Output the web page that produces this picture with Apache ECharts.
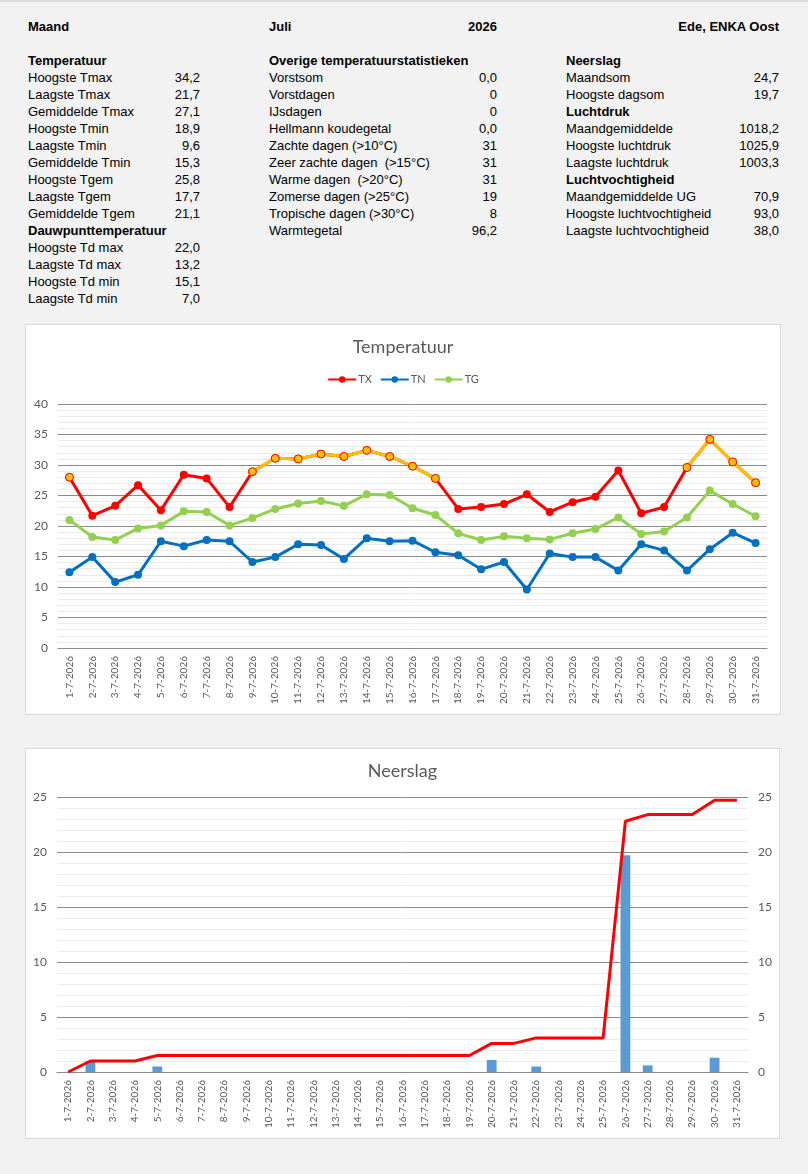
<!DOCTYPE html>
<html lang="nl">
<head>
    <meta charset="utf-8">
    <title>Maandoverzicht juli 2026</title>
    <script src="https://cdn.jsdelivr.net/npm/echarts@6.0.0/dist/echarts.min.js"></script>
    <style>
        body { margin: 0; background: #f2f2f2; }
        #page { position: relative; width: 808px; height: 1174px; border-top: 2px solid #dcdcdc; box-sizing: border-box; }
        .txt { position: absolute; font-family: Arial, "Liberation Sans", sans-serif; font-size: 13px; color: #000; line-height: 17px; white-space: pre; }
        .b { font-weight: bold; }
        .panel { position: absolute; background: #fff; border: 1px solid #d9d9d9; box-sizing: border-box; }
    </style>
</head>
<body>
<div id="page">
    <div id="stats"></div>
    <div class="panel" style="left:25px;top:322px;width:756px;height:391px;">
        <div id="temp" style="width:754px;height:389px;"></div>
    </div>
    <div class="panel" style="left:25px;top:746px;width:755px;height:391px;">
        <div id="rain" style="width:753px;height:389px;"></div>
    </div>
</div>

<script type="text/javascript">
    // kop en statistieken (null = kopregel)
    var header = ['Maand', 'Juli', '2026', 'Ede, ENKA Oost'];

    var statsTemp = [
        ['Temperatuur', null],
        ['Hoogste Tmax', '34,2'],
        ['Laagste Tmax', '21,7'],
        ['Gemiddelde Tmax', '27,1'],
        ['Hoogste Tmin', '18,9'],
        ['Laagste Tmin', '9,6'],
        ['Gemiddelde Tmin', '15,3'],
        ['Hoogste Tgem', '25,8'],
        ['Laagste Tgem', '17,7'],
        ['Gemiddelde Tgem', '21,1'],
        ['Dauwpunttemperatuur', null],
        ['Hoogste Td max', '22,0'],
        ['Laagste Td max', '13,2'],
        ['Hoogste Td min', '15,1'],
        ['Laagste Td min', '7,0']
    ];

    var statsOverig = [
        ['Overige temperatuurstatistieken', null],
        ['Vorstsom', '0,0'],
        ['Vorstdagen', '0'],
        ['IJsdagen', '0'],
        ['Hellmann koudegetal', '0,0'],
        ['Zachte dagen (>10°C)', '31'],
        ['Zeer zachte dagen  (>15°C)', '31'],
        ['Warme dagen  (>20°C)', '31'],
        ['Zomerse dagen (>25°C)', '19'],
        ['Tropische dagen (>30°C)', '8'],
        ['Warmtegetal', '96,2']
    ];

    var statsOverig2 = [
        ['Neerslag', null],
        ['Maandsom', '24,7'],
        ['Hoogste dagsom', '19,7'],
        ['Luchtdruk', null],
        ['Maandgemiddelde', '1018,2'],
        ['Hoogste luchtdruk', '1025,9'],
        ['Laagste luchtdruk', '1003,3'],
        ['Luchtvochtigheid', null],
        ['Maandgemiddelde UG', '70,9'],
        ['Hoogste luchtvochtigheid', '93,0'],
        ['Laagste luchtvochtigheid', '38,0']
    ];

    var dagen = ['1-7-2026', '2-7-2026', '3-7-2026', '4-7-2026', '5-7-2026', '6-7-2026', '7-7-2026', '8-7-2026',
        '9-7-2026', '10-7-2026', '11-7-2026', '12-7-2026', '13-7-2026', '14-7-2026', '15-7-2026', '16-7-2026',
        '17-7-2026', '18-7-2026', '19-7-2026', '20-7-2026', '21-7-2026', '22-7-2026', '23-7-2026', '24-7-2026',
        '25-7-2026', '26-7-2026', '27-7-2026', '28-7-2026', '29-7-2026', '30-7-2026', '31-7-2026'];

    var tx = [28.0, 21.7, 23.3, 26.7, 22.6, 28.4, 27.8, 23.1, 28.9, 31.1, 31.0, 31.8, 31.4, 32.4, 31.4, 29.8,
        27.8, 22.8, 23.1, 23.6, 25.2, 22.3, 23.9, 24.8, 29.1, 22.1, 23.1, 29.6, 34.2, 30.5, 27.1];
    var tn = [12.4, 14.9, 10.8, 12.0, 17.5, 16.7, 17.7, 17.5, 14.1, 14.9, 17.0, 16.9, 14.6, 18.0, 17.5, 17.6,
        15.7, 15.2, 12.9, 14.1, 9.6, 15.5, 14.9, 14.9, 12.7, 17.0, 16.0, 12.7, 16.2, 18.9, 17.2];
    var tg = [21.0, 18.2, 17.7, 19.6, 20.1, 22.4, 22.3, 20.1, 21.3, 22.8, 23.7, 24.1, 23.3, 25.2, 25.1, 22.9,
        21.8, 18.8, 17.7, 18.3, 18.0, 17.8, 18.8, 19.5, 21.4, 18.7, 19.1, 21.4, 25.8, 23.6, 21.6];
    // dagen die in de grafiek oranje gemarkeerd zijn
    var hittegolfDagen = [1, 9, 10, 11, 12, 13, 14, 15, 16, 17, 28, 29, 30, 31];

    var neerslag = [0, 1.0, 0, 0, 0.5, 0, 0, 0, 0, 0, 0, 0, 0, 0, 0, 0,
        0, 0, 0, 1.1, 0, 0.5, 0, 0, 0, 19.7, 0.6, 0, 0, 1.3, 0];
    var neerslagSom = [0, 1.0, 1.0, 1.0, 1.5, 1.5, 1.5, 1.5, 1.5, 1.5, 1.5, 1.5, 1.5, 1.5, 1.5, 1.5,
        1.5, 1.5, 1.5, 2.6, 2.6, 3.1, 3.1, 3.1, 3.1, 22.8, 23.4, 23.4, 23.4, 24.7, 24.7];

    // tekstblok bovenaan
    var statsBox = document.getElementById('stats');
    function addText(txt, left, top, width, bold, alignRight) {
        var d = document.createElement('div');
        d.className = 'txt' + (bold ? ' b' : '');
        d.textContent = txt;
        d.style.top = top + 'px';
        d.style.left = left + 'px';
        if (alignRight) {
            d.style.width = width + 'px';
            d.style.textAlign = 'right';
        }
        statsBox.appendChild(d);
    }
    addText(header[0], 28, 16, 0, true, false);
    addText(header[1], 269, 16, 0, true, false);
    addText(header[2], 269, 16, 228, true, true);
    addText(header[3], 566, 16, 213, true, true);

    function addColumn(rows, left, width) {
        rows.forEach(function (r, i) {
            var top = 50 + i * 17;
            addText(r[0], left, top, 0, r[1] === null, false);
            if (r[1] !== null) addText(r[1], left, top, width, false, true);
        });
    }
    addColumn(statsTemp, 28, 172);
    addColumn(statsOverig, 269, 228);
    addColumn(statsOverig2, 566, 213);

    var font = 'Lato, "Noto Sans", sans-serif';
    var grijs = '#595959';
    var lijn = '#8a8a8a';
    var fijn = '#ebebeb';

    function valueAxis(pos, showGrid) {
        return {
            type: 'value', position: pos, min: 0, interval: 5,
            axisLine: {show: false}, axisTick: {show: false},
            axisLabel: {color: grijs, fontSize: 12, fontFamily: font, margin: 10},
            splitLine: {show: showGrid, lineStyle: {color: lijn, width: 1}},
            minorTick: {show: false, splitNumber: 5},
            minorSplitLine: {show: showGrid, lineStyle: {color: fijn, width: 1}}
        };
    }
    var catAxis = {
        type: 'category', data: dagen, boundaryGap: true,
        axisLine: {lineStyle: {color: lijn, width: 1}},
        axisTick: {show: false},
        axisLabel: {rotate: 90, interval: 0, color: grijs, fontSize: 10, fontFamily: font, margin: 8}
    };

    // Temperatuur
    var hitte = tx.map(function (v, i) {
        return hittegolfDagen.indexOf(i + 1) >= 0 ? v : null;
    });

    var tempChart = echarts.init(document.getElementById('temp'));
    var yTemp = valueAxis('left', true);
    yTemp.max = 40;
    tempChart.setOption({
        animation: false,
        title: {
            text: 'Temperatuur', left: 'center', top: 8,
            textStyle: {color: grijs, fontSize: 18, fontWeight: 'normal', fontFamily: font}
        },
        legend: {
            data: ['TX', 'TN', 'TG'], top: 44, left: 'center',
            itemWidth: 28, itemHeight: 8, itemGap: 8,
            textStyle: {color: grijs, fontSize: 11, fontFamily: font, padding: [0, 0, 0, -3]}
        },
        grid: {left: 32, right: 13, top: 79, bottom: 66, containLabel: false},
        xAxis: catAxis,
        yAxis: yTemp,
        series: [
            {
                name: 'TX', type: 'line', data: tx, symbol: 'circle', symbolSize: 8,
                lineStyle: {color: '#ff0000', width: 3}, itemStyle: {color: '#ff0000'}
            },
            {
                name: 'TN', type: 'line', data: tn, symbol: 'circle', symbolSize: 8,
                lineStyle: {color: '#0070c0', width: 3}, itemStyle: {color: '#0070c0'}
            },
            {
                name: 'TG', type: 'line', data: tg, symbol: 'circle', symbolSize: 8,
                lineStyle: {color: '#92d050', width: 3}, itemStyle: {color: '#92d050'}
            },
            {
                name: 'TX hitte', type: 'line', data: hitte, connectNulls: false,
                symbol: 'circle', symbolSize: 8, showSymbol: true,
                lineStyle: {color: '#ffc000', width: 3},
                itemStyle: {color: '#ffc000', borderColor: '#ff0000', borderWidth: 1}
            }
        ]
    });

    // Neerslag
    var rainChart = echarts.init(document.getElementById('rain'));
    var yLinks = valueAxis('left', true);
    yLinks.max = 25;
    var yRechts = valueAxis('right', false);
    yRechts.max = 25;
    rainChart.setOption({
        animation: false,
        title: {
            text: 'Neerslag', left: 'center', top: 8,
            textStyle: {color: grijs, fontSize: 18, fontWeight: 'normal', fontFamily: font}
        },
        grid: {left: 31, right: 31, top: 48, bottom: 66, containLabel: false},
        xAxis: catAxis,
        yAxis: [yLinks, yRechts],
        series: [
            {
                name: 'Neerslag', type: 'bar', data: neerslag, yAxisIndex: 0,
                barWidth: '44%', itemStyle: {color: '#5b9bd5'}
            },
            {
                name: 'Maandsom', type: 'line', data: neerslagSom, yAxisIndex: 1,
                showSymbol: false, lineStyle: {color: '#ff0000', width: 3}, itemStyle: {color: '#ff0000'}
            }
        ]
    });
</script>
</body>
</html>
